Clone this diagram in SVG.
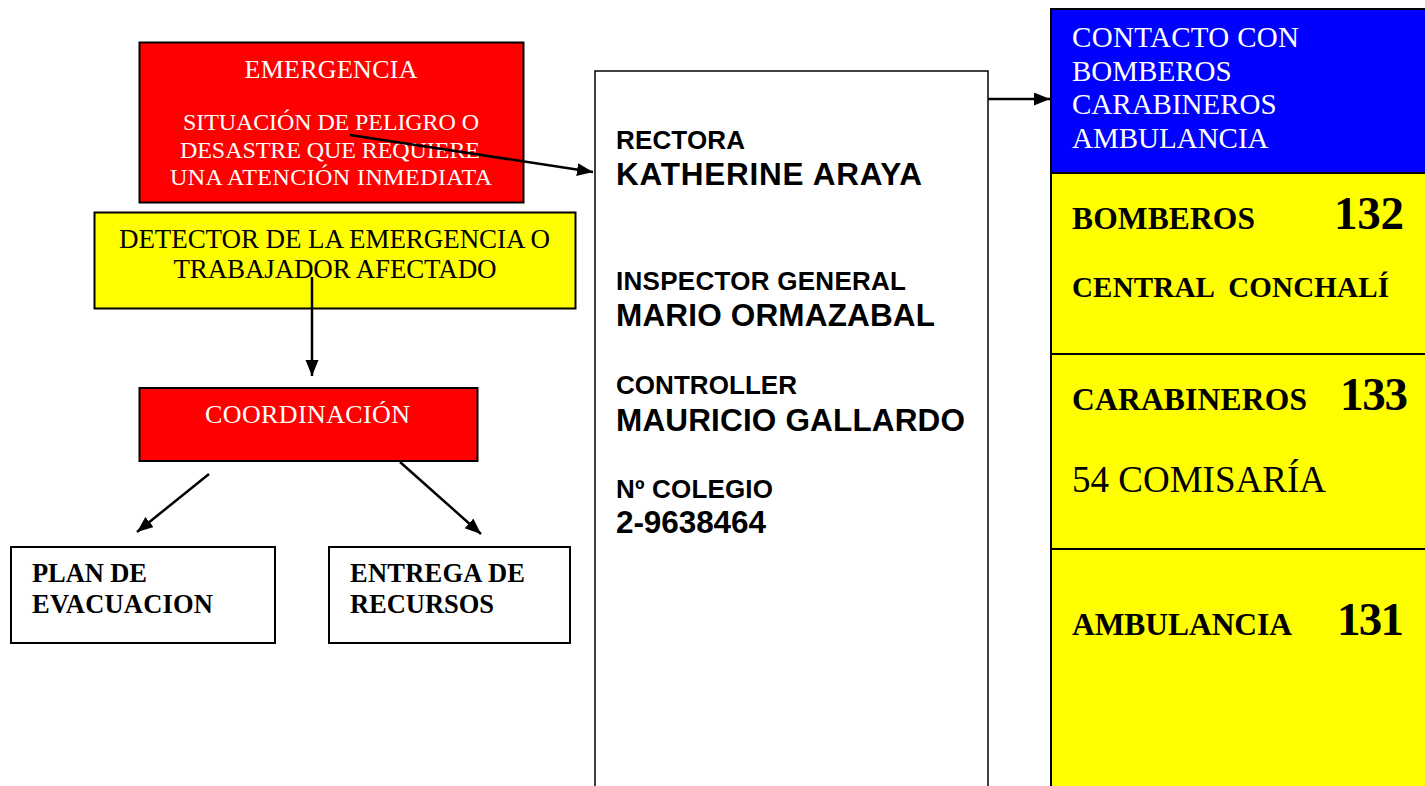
<svg xmlns="http://www.w3.org/2000/svg" width="1425" height="786" viewBox="0 0 1425 786">
<style>
.box{stroke:#000;stroke-width:2}
.red{fill:#FF0000}
.yel{fill:#FFFF00}
.blu{fill:#0000FF}
.wht{fill:#FFFFFF}
.ser{font-family:"Liberation Serif","Times New Roman",serif}
.sans{font-family:"Liberation Sans",Arial,sans-serif;font-weight:bold;fill:#000}
.w{fill:#FFFFFF}
.k{fill:#000}
.b{font-weight:bold}
.conn{stroke:#000;stroke-width:2.5;fill:none}
</style>
<defs>
<marker id="ah" markerUnits="userSpaceOnUse" markerWidth="18" markerHeight="14" refX="16" refY="6.5" orient="auto">
<path d="M0,0 L16,6.5 L0,13 z" fill="#000"/>
</marker>
</defs>
<rect width="1425" height="786" fill="#FFFFFF"/>

<g id="emergencia">
<rect class="box red" x="139.5" y="42.5" width="384" height="160"/>
<text class="ser w" x="331" y="78" font-size="26" text-anchor="middle" textLength="173">EMERGENCIA</text>
<text class="ser w" x="331" y="130" font-size="24" text-anchor="middle" textLength="296">SITUACIÓN DE PELIGRO O</text>
<text class="ser w" x="330" y="158" font-size="24" text-anchor="middle" textLength="300">DESASTRE QUE REQUIERE</text>
<text class="ser w" x="331" y="185" font-size="24" text-anchor="middle" textLength="322">UNA ATENCIÓN INMEDIATA</text>
</g>

<g id="detector">
<rect class="box yel" x="94.5" y="212.5" width="481" height="96"/>
<text class="ser k" x="334.5" y="248" font-size="27" text-anchor="middle" textLength="431">DETECTOR DE LA EMERGENCIA O</text>
<text class="ser k" x="335" y="278" font-size="27" text-anchor="middle" textLength="323">TRABAJADOR AFECTADO</text>
</g>

<g id="coordinacion">
<rect class="box red" x="139.5" y="388" width="338" height="73"/>
<text class="ser w" x="307.5" y="423" font-size="26" text-anchor="middle" textLength="205">COORDINACIÓN</text>
</g>

<g id="plan">
<rect class="box wht" x="11" y="547" width="264" height="96"/>
<text class="ser k b" x="32" y="582" font-size="26.5" textLength="115">PLAN DE</text>
<text class="ser k b" x="32" y="613" font-size="26.5" textLength="181">EVACUACION</text>
</g>

<g id="entrega">
<rect class="box wht" x="329" y="547" width="241" height="96"/>
<text class="ser k b" x="350" y="582" font-size="26.5" textLength="175">ENTREGA DE</text>
<text class="ser k b" x="350" y="613" font-size="26.5" textLength="144">RECURSOS</text>
</g>

<g id="directorio">
<rect x="595" y="71" width="393" height="740" fill="#FFFFFF" stroke="#000" stroke-width="1.5"/>
<text class="sans" x="616" y="149" font-size="26" textLength="129">RECTORA</text>
<text class="sans" x="616" y="185" font-size="31.5" textLength="306">KATHERINE ARAYA</text>
<text class="sans" x="616" y="290" font-size="26" textLength="290">INSPECTOR GENERAL</text>
<text class="sans" x="616" y="326" font-size="31.5" textLength="319">MARIO ORMAZABAL</text>
<text class="sans" x="616" y="394" font-size="26" textLength="181">CONTROLLER</text>
<text class="sans" x="616" y="431" font-size="31.5" textLength="349">MAURICIO GALLARDO</text>
<text class="sans" x="616" y="498" font-size="26" textLength="157">Nº COLEGIO</text>
<text class="sans" x="616" y="533" font-size="31.5" textLength="150">2-9638464</text>
</g>

<g id="contacto">
<rect class="box blu" x="1051" y="9" width="400" height="164"/>
<text class="ser w" x="1072" y="47" font-size="29" textLength="227">CONTACTO CON</text>
<text class="ser w" x="1072" y="80.5" font-size="29">BOMBEROS</text>
<text class="ser w" x="1072" y="114" font-size="29">CARABINEROS</text>
<text class="ser w" x="1072" y="147.5" font-size="29">AMBULANCIA</text>
</g>

<g id="bomberos">
<rect class="box yel" x="1051" y="173" width="400" height="181"/>
<text class="ser k b" x="1072" y="229" font-size="31.5" textLength="183">BOMBEROS</text>
<text class="ser k b" x="1334" y="229" font-size="47" textLength="70">132</text>
<text class="ser k b" x="1072" y="297" font-size="29" textLength="317" xml:space="preserve" style="white-space:pre">CENTRAL  CONCHALÍ</text>
</g>

<g id="carabineros">
<rect class="box yel" x="1051" y="354" width="400" height="195"/>
<text class="ser k b" x="1072" y="410" font-size="31.5" textLength="235">CARABINEROS</text>
<text class="ser k b" x="1340" y="410" font-size="47" textLength="68">133</text>
<text class="ser k" x="1072" y="492" font-size="37" textLength="254">54 COMISARÍA</text>
</g>

<g id="ambulancia">
<rect class="box yel" x="1051" y="549" width="400" height="260"/>
<text class="ser k b" x="1072" y="635" font-size="31.5" textLength="220">AMBULANCIA</text>
<text class="ser k b" x="1337" y="635" font-size="47" textLength="67">131</text>
</g>

<g id="connectors">
<line class="conn" x1="350" y1="135" x2="593" y2="172" marker-end="url(#ah)"/>
<line class="conn" x1="312" y1="277" x2="312" y2="376" marker-end="url(#ah)"/>
<line class="conn" x1="209" y1="474" x2="137" y2="532" marker-end="url(#ah)"/>
<line class="conn" x1="400" y1="462" x2="481" y2="534" marker-end="url(#ah)"/>
<line class="conn" x1="988" y1="99" x2="1050" y2="99" marker-end="url(#ah)"/>
</g>
</svg>
